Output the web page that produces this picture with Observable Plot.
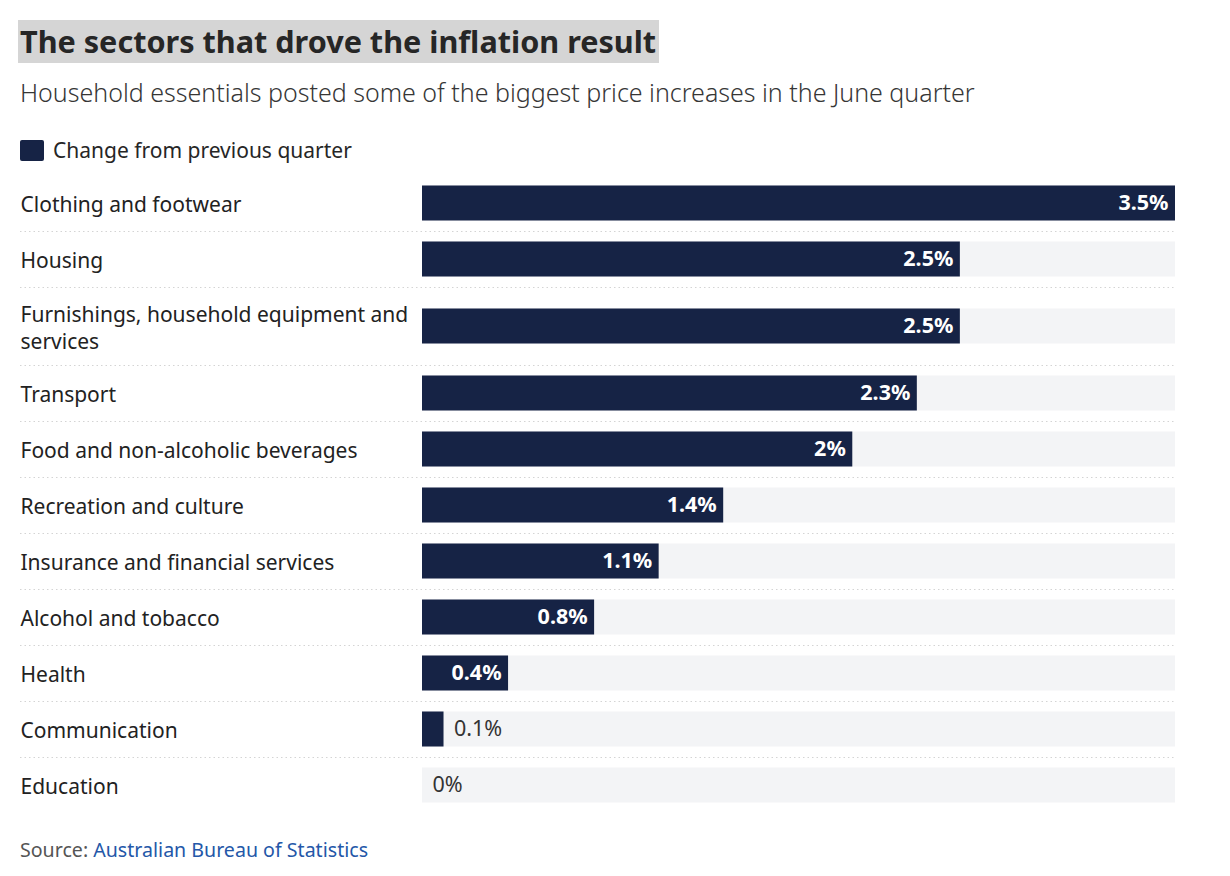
<!DOCTYPE html>
<html>
<head>
<meta charset="utf-8">
<script src="https://cdn.jsdelivr.net/npm/d3@7"></script>
<script src="https://cdn.jsdelivr.net/npm/@observablehq/plot@0.6"></script>
<style>
  html, body { margin: 0; padding: 0; background: #fff; }
  body { width: 1230px; height: 876px; position: relative; overflow: hidden; font-family: "Noto Sans", Lato, sans-serif; color: #222; }
  .title { position: absolute; left: 18px; top: 20px; height: 43px; line-height: 43px; padding: 0 3px 0 2px; background: #d5d5d5; font-weight: 700; font-size: 30.6px; color: #262626; white-space: nowrap; }
  .subtitle { position: absolute; left: 20px; top: 77px; line-height: 30px; font-size: 25px; color: #363636; white-space: nowrap; font-weight: 300; }
  .legend { position: absolute; left: 20px; top: 138px; height: 24px; display: flex; align-items: center; font-size: 21px; color: #262626; }
  .legend .sw { width: 24px; height: 21px; background: #162345; border-radius: 2px; margin-right: 9px; }
  #chart { position: absolute; left: 0; top: 175px; }
  .source { position: absolute; left: 20px; top: 837px; line-height: 26px; font-size: 19.6px; color: #555; white-space: nowrap; }
  .source a { color: #2457a8; text-decoration: none; }
</style>
</head>
<body>
<div class="title" id="title"></div>
<div class="subtitle" id="subtitle"></div>
<div class="legend"><div class="sw"></div><span id="legendText"></span></div>
<div id="chart"></div>
<div class="source">Source: <a id="sourceLink"></a></div>
<script>
const titleText = "The sectors that drove the inflation result";
const subtitleText = "Household essentials posted some of the biggest price increases in the June quarter";
const seriesName = "Change from previous quarter";
const sourceName = "Australian Bureau of Statistics";

const categories = [
  "Clothing and footwear",
  "Housing",
  "Furnishings, household equipment and services",
  "Transport",
  "Food and non-alcoholic beverages",
  "Recreation and culture",
  "Insurance and financial services",
  "Alcohol and tobacco",
  "Health",
  "Communication",
  "Education"
];
const values = [3.5, 2.5, 2.5, 2.3, 2, 1.4, 1.1, 0.8, 0.4, 0.1, 0];

document.getElementById("title").textContent = titleText;
document.getElementById("subtitle").textContent = subtitleText;
document.getElementById("legendText").textContent = seriesName;
document.getElementById("sourceLink").textContent = sourceName;

const FONT = '"Noto Sans", Lato, sans-serif';
const labelSize = 21, lineHeightEm = 1.32, wrapPx = 396;
const rowBase = 56, extraPerLine = 22, barH = 35;
const ctx = document.createElement("canvas").getContext("2d");
ctx.font = `${labelSize}px "Noto Sans"`;
function wrap(s) {
  const words = s.split(" ");
  const lines = [];
  let cur = "";
  for (const w of words) {
    const t = cur ? cur + " " + w : w;
    if (cur && ctx.measureText(t).width > wrapPx) { lines.push(cur); cur = w; }
    else cur = t;
  }
  lines.push(cur);
  return lines;
}
let acc = 0;
const rows = categories.map((c, i) => {
  const lines = wrap(c);
  const h = rowBase + (lines.length - 1) * extraPerLine;
  const r = { category: c, wrapped: lines.join("\n"), value: values[i], top: acc, mid: acc + h / 2 };
  acc += h;
  return r;
});
const total = acc;
const maxVal = d3.max(values);
const fmt = d => `${d.value}%`;
const inside = d => d.value >= 0.3;

const chart = Plot.plot({
  width: 1230,
  height: total,
  marginTop: 0, marginBottom: 0, marginLeft: 20, marginRight: 55,
  style: { fontFamily: FONT, background: "transparent" },
  x: { domain: [0, maxVal], range: [422, 1175], axis: null },
  y: { domain: [0, total], range: [0, total], axis: null },
  marks: [
    Plot.rect(rows, { x1: 0, x2: maxVal, y1: d => d.mid - barH / 2, y2: d => d.mid + barH / 2, fill: "#f3f4f6" }),
    Plot.rect(rows, { x1: 0, x2: "value", y1: d => d.mid - barH / 2, y2: d => d.mid + barH / 2, fill: "#162345" }),
    Plot.ruleY(rows.slice(1), { y: "top", stroke: "#d4d4d4", strokeDasharray: "1.5,3" }),
    Plot.text(rows, { y: "mid", frameAnchor: "left", text: "wrapped", textAnchor: "start", lineAnchor: "middle", lineHeight: lineHeightEm, fontSize: labelSize, fill: "#222" }),
    Plot.text(rows.filter(inside), { x: "value", y: "mid", text: fmt, textAnchor: "end", dx: -7, fill: "white", fontWeight: "bold", fontSize: 21.5 }),
    Plot.text(rows.filter(d => !inside(d)), { x: "value", y: "mid", text: fmt, textAnchor: "start", dx: 10, fill: "#333", fontSize: 21.5 })
  ]
});
document.getElementById("chart").appendChild(chart);
</script>
</body>
</html>
